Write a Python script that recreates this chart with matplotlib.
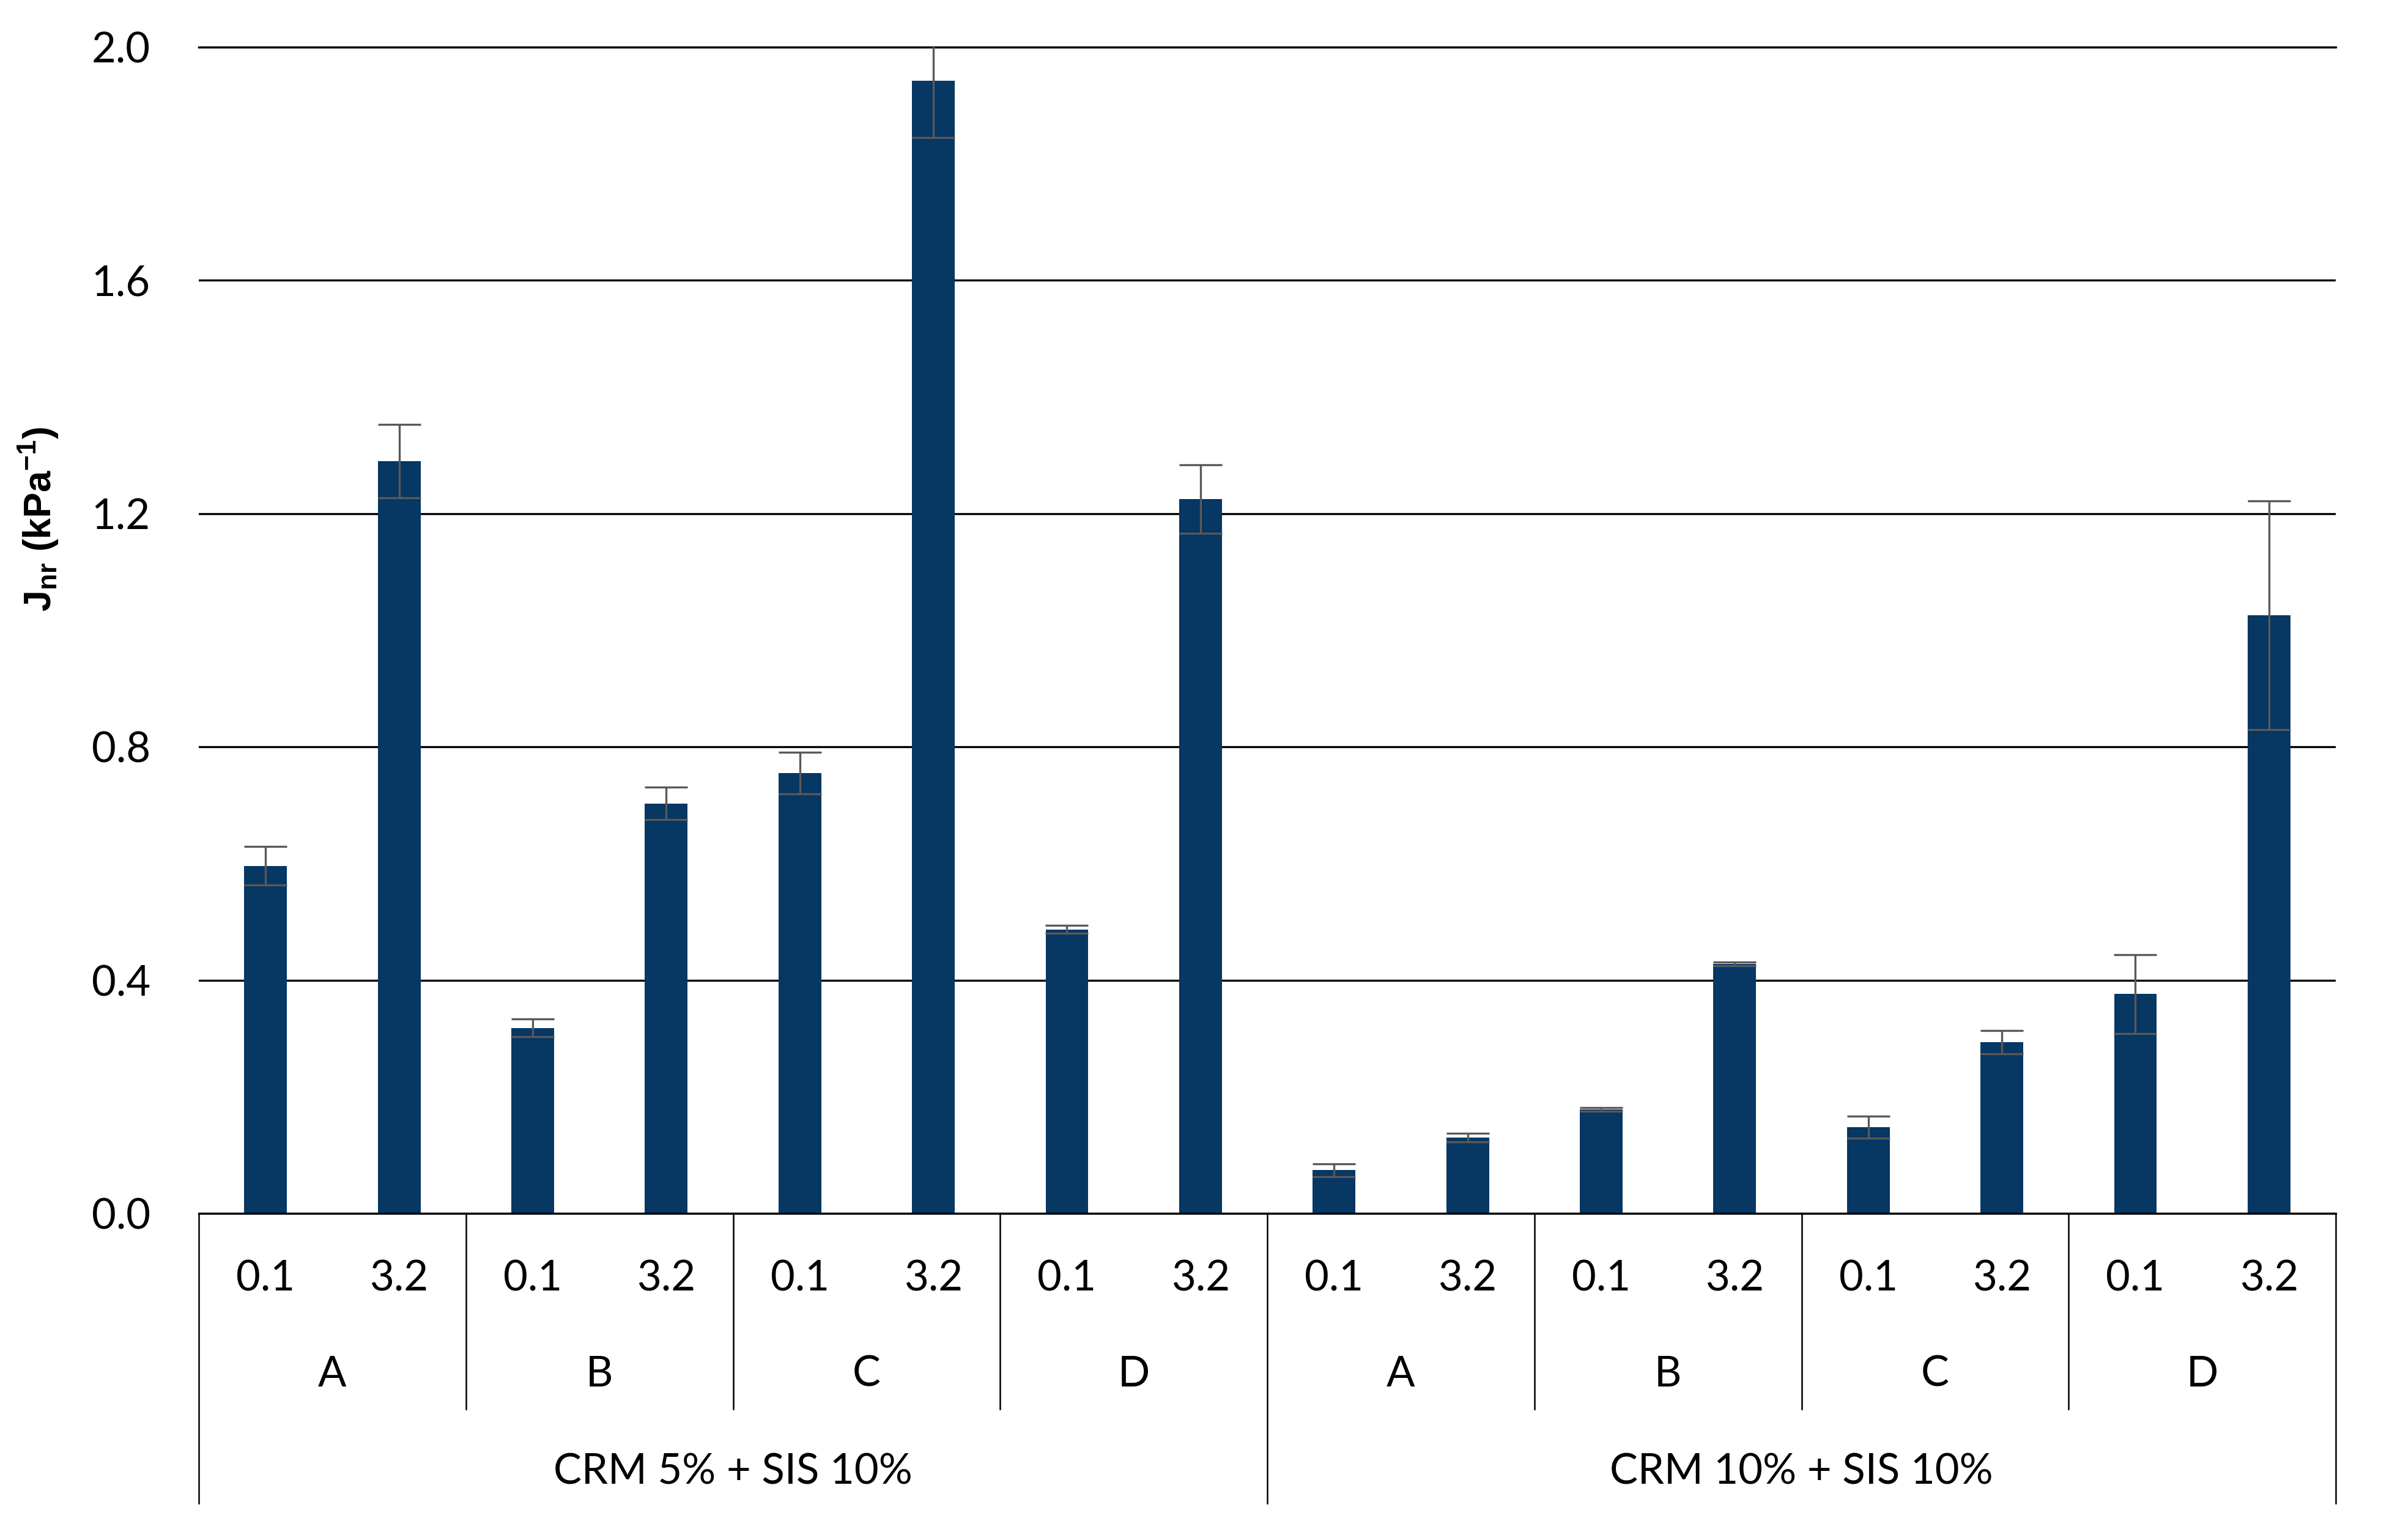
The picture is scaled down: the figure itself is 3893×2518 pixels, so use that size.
"""Jnr bar chart with two-level category axis (stress level / binder / blend)."""

import matplotlib
matplotlib.use("Agg")
import matplotlib.pyplot as plt
import numpy as np

# data
blends = ["CRM 5% + SIS 10%", "CRM 10% + SIS 10%"]
binders = ["A", "B", "C", "D"]
stress_levels = ["0.1", "3.2"]

jnr_crm5 = [0.596, 1.290, 0.318, 0.703, 0.755, 1.942, 0.487, 1.225]
err_crm5 = [0.033, 0.063, 0.015, 0.028, 0.036, 0.097, 0.007, 0.059]
jnr_crm10 = [0.074, 0.130, 0.178, 0.428, 0.148, 0.294, 0.376, 1.026]
err_crm10 = [0.011, 0.007, 0.003, 0.003, 0.019, 0.020, 0.068, 0.196]

BAR_COLOR = "#073763"
ERR_COLOR = "#595959"
FONT = ["Lato", "DejaVu Sans"]

plt.rcParams["font.family"] = FONT
plt.rcParams["mathtext.default"] = "regular"

values = np.array(jnr_crm5 + jnr_crm10)
errors = np.array(err_crm5 + err_crm10)
x = np.arange(len(values))

fig = plt.figure(figsize=(3893 / 300, 2518 / 300), dpi=300)
ax = fig.add_axes([0.0835, 0.2121, 0.8975, 0.7573])

ax.bar(x, values, width=0.32, color=BAR_COLOR, zorder=2)
ax.errorbar(x, values, yerr=errors, fmt="none", ecolor=ERR_COLOR,
            elinewidth=0.8, capsize=8.5, capthick=0.8, zorder=3)

ax.set_xlim(-0.5, len(values) - 0.5)
ax.set_ylim(0, 2.0)
ax.set_yticks(np.arange(0, 2.01, 0.4))
ax.set_yticklabels([f"{v:.1f}" for v in np.arange(0, 2.01, 0.4)])
ax.tick_params(axis="y", length=0, pad=19, labelsize=16.5)
ax.set_xticks([])
ax.yaxis.grid(True, color="black", linewidth=0.8, zorder=0)
ax.set_axisbelow(True)

for side in ("left", "right"):
    ax.spines[side].set_visible(False)
ax.spines["top"].set_linewidth(0.8)
ax.spines["bottom"].set_linewidth(0.8)

ax.set_ylabel(r"J$_{nr}$ (kPa$^{-1}$)", fontsize=15, fontweight="bold",
              family=["Liberation Sans", "DejaVu Sans"], va="center")
ax.yaxis.set_label_coords(-0.075, 0.595)

# multi-level category axis drawn below the plot
trans = ax.get_xaxis_transform()
line_kw = dict(color="black", linewidth=0.6, transform=trans, clip_on=False)
n_per_blend = len(binders) * len(stress_levels)

for i in range(len(values)):
    ax.text(x[i], -0.056, stress_levels[i % 2], transform=trans,
            ha="center", va="center", fontsize=16.5)

for b in range(len(blends) * len(binders)):
    centre = b * 2 + 0.5
    ax.text(centre, -0.138, binders[b % len(binders)], transform=trans,
            ha="center", va="center", fontsize=16.5)
    left = b * 2 - 0.5
    if b % len(binders) == 0:
        ax.plot([left, left], [0, -0.2486], **line_kw)
    else:
        ax.plot([left, left], [0, -0.168], **line_kw)
ax.plot([len(values) - 0.5] * 2, [0, -0.2486], **line_kw)

for g, name in enumerate(blends):
    centre = g * n_per_blend + (n_per_blend - 1) / 2
    ax.text(centre, -0.222, name, transform=trans,
            ha="center", va="center", fontsize=16.5)

fig.savefig("out.png", dpi=300, facecolor="white")
